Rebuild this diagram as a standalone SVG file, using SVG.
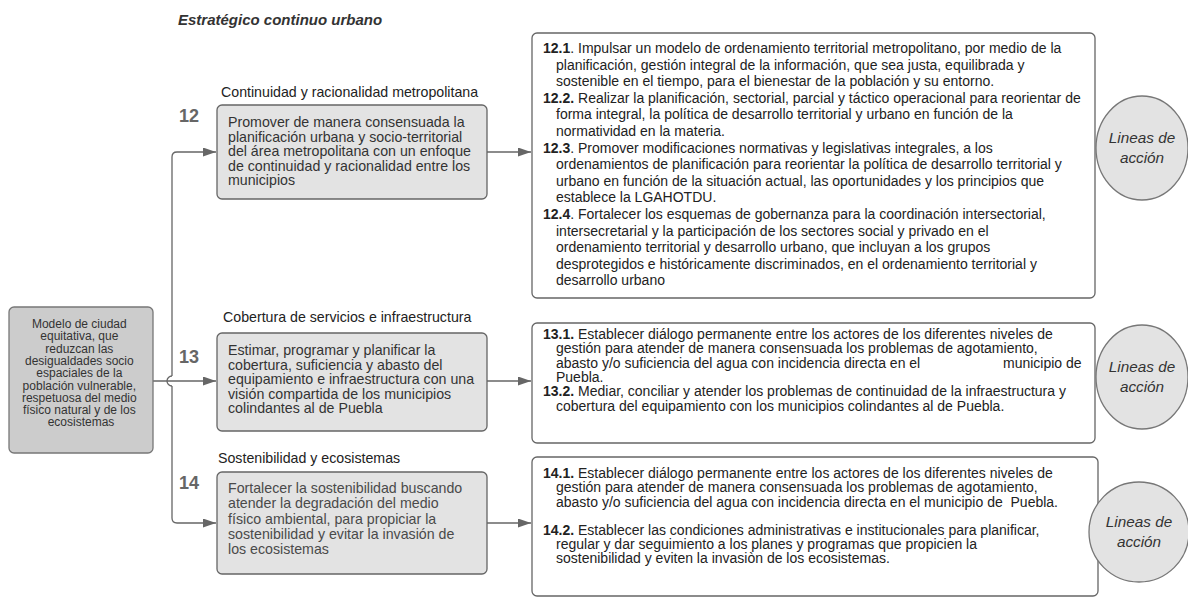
<svg xmlns="http://www.w3.org/2000/svg" width="1188" height="599" viewBox="0 0 1188 599">
<defs>
<style>
text{font-family:"Liberation Sans",Arial,sans-serif;fill:#333}
.title{font-size:15px;font-weight:bold;font-style:italic;fill:#333}
.lbl{font-size:14.2px;fill:#222}
.num{font-size:18px;font-weight:bold;fill:#666}
.obj{fill:#e3e3e3;stroke:#666;stroke-width:1.3}
.root{fill:#cccccc;stroke:#777;stroke-width:1.3}
.bt{font-size:14.2px;fill:#333}
.lt{font-size:12px;fill:#333}
.ra{fill:#fff;stroke:#666;stroke-width:1.3}
.rx{font-size:14px;fill:#222}
.b{font-weight:bold}
.circ{fill:#e3e3e3;stroke:#777;stroke-width:1.3}
.ct{font-size:15.3px;font-style:italic;fill:#333}
.con{fill:none;stroke:#666;stroke-width:1.3}
</style>
<marker id="arr" viewBox="0 0 13 9" refX="13" refY="4.5" markerWidth="13" markerHeight="9" markerUnits="userSpaceOnUse" orient="auto">
<path d="M0,0 L13,4.5 L0,9 z" fill="#666"/>
</marker>
</defs>

<text class="title" x="178" y="25">Estratégico continuo urbano</text>

<g id="connectors">
<path class="con" d="M172,376 V157 Q172,152 177,152 H216" marker-end="url(#arr)"/>
<path class="con" d="M172,386 V518 Q172,523 177,523 H216" marker-end="url(#arr)"/>
<path class="con" d="M172,376 A5,5 0 0 0 172,386"/>
<path class="con" d="M153,381 H216" marker-end="url(#arr)"/>
<path class="con" d="M487,152 H531" marker-end="url(#arr)"/>
<path class="con" d="M487,381 H531" marker-end="url(#arr)"/>
<path class="con" d="M487,523 H531" marker-end="url(#arr)"/>
</g>

<g id="root">
<rect class="root" x="9" y="307" width="144" height="146" rx="5"/>
<text class="lt" text-anchor="middle">
<tspan x="81" y="328">Modelo de ciudad</tspan>
<tspan x="81" y="340.3">equitativa, que</tspan>
<tspan x="81" y="352.6">reduzcan las</tspan>
<tspan x="81" y="364.9">desigualdades socio</tspan>
<tspan x="81" y="377.2">espaciales de la</tspan>
<tspan x="81" y="389.5">población vulnerable,</tspan>
<tspan x="81" y="401.8">respetuosa del medio</tspan>
<tspan x="81" y="414.1">físico natural y de los</tspan>
<tspan x="81" y="426.4">ecosistemas</tspan>
</text>
</g>

<g id="obj12">
<text class="lbl" x="221" y="97">Continuidad y racionalidad metropolitana</text>
<text class="num" x="179" y="122">12</text>
<rect class="obj" x="217" y="105" width="270" height="94" rx="5"/>
<text class="bt">
<tspan x="228" y="127">Promover de manera consensuada la</tspan>
<tspan x="228" y="141.5">planificación urbana y socio-territorial</tspan>
<tspan x="228" y="156">del área metropolitana con un enfoque</tspan>
<tspan x="228" y="170.5">de continuidad y racionalidad entre los</tspan>
<tspan x="228" y="185">municipios</tspan>
</text>
</g>

<g id="obj13">
<text class="lbl" x="223" y="322">Cobertura de servicios e infraestructura</text>
<text class="num" x="179" y="363">13</text>
<rect class="obj" x="217" y="333" width="270" height="98" rx="5"/>
<text class="bt">
<tspan x="228" y="355">Estimar, programar y planificar la</tspan>
<tspan x="228" y="369.5">cobertura, suficiencia y abasto del</tspan>
<tspan x="228" y="384">equipamiento e infraestructura con una</tspan>
<tspan x="228" y="398.5">visión compartida de los municipios</tspan>
<tspan x="228" y="413">colindantes al de Puebla</tspan>
</text>
</g>

<g id="obj14">
<text class="lbl" x="218" y="463">Sostenibilidad y ecosistemas</text>
<text class="num" x="179" y="489">14</text>
<rect class="obj" x="217" y="472" width="270" height="102" rx="5"/>
<text class="bt" style="fill:#4a4a4a">
<tspan x="228" y="493">Fortalecer la sostenibilidad buscando</tspan>
<tspan x="228" y="508.3">atender la degradación del medio</tspan>
<tspan x="228" y="523.6">físico ambiental, para propiciar la</tspan>
<tspan x="228" y="538.9">sostenibilidad y evitar la invasión de</tspan>
<tspan x="228" y="554.2">los ecosistemas</tspan>
</text>
</g>

<g id="acc12">
<rect class="ra" x="532" y="33" width="563" height="265" rx="5"/>
<text class="rx">
<tspan x="543" y="53"><tspan class="b">12.1</tspan>. Impulsar un modelo de ordenamiento territorial metropolitano, por medio de la</tspan>
<tspan x="556" y="69.6">planificación, gestión integral de la información, que sea justa, equilibrada y</tspan>
<tspan x="556" y="86.2">sostenible en el tiempo, para el bienestar de la población y su entorno.</tspan>
<tspan x="543" y="102.8"><tspan class="b">12.2.</tspan>  Realizar la planificación, sectorial, parcial y táctico operacional para reorientar de</tspan>
<tspan x="556" y="119.4">forma integral, la política de desarrollo territorial y urbano en función de la</tspan>
<tspan x="556" y="136">normatividad en la materia.</tspan>
<tspan x="543" y="152.6"><tspan class="b">12.3</tspan>. Promover modificaciones normativas y legislativas integrales, a los</tspan>
<tspan x="556" y="169.2">ordenamientos de planificación para reorientar la política de desarrollo territorial y</tspan>
<tspan x="556" y="185.8">urbano en función de la situación actual, las oportunidades y los principios que</tspan>
<tspan x="556" y="202.4">establece la LGAHOTDU.</tspan>
<tspan x="543" y="219"><tspan class="b">12.4</tspan>. Fortalecer los esquemas de gobernanza para la coordinación intersectorial,</tspan>
<tspan x="556" y="235.6">intersecretarial y la participación de los sectores social y privado en el</tspan>
<tspan x="556" y="252.2">ordenamiento territorial y desarrollo urbano, que incluyan a los grupos</tspan>
<tspan x="556" y="268.8">desprotegidos e históricamente discriminados, en el ordenamiento territorial y</tspan>
<tspan x="556" y="285.4">desarrollo urbano</tspan>
</text>
</g>

<g id="acc13">
<rect class="ra" x="532" y="323" width="563" height="120" rx="5"/>
<text class="rx">
<tspan x="543" y="339"><tspan class="b">13.1.</tspan> Establecer diálogo permanente entre los actores de los diferentes niveles de</tspan>
<tspan x="556" y="353.3">gestión para atender de manera consensuada los problemas de agotamiento,</tspan>
<tspan x="556" y="367.6">abasto y/o suficiencia del agua con incidencia directa en el</tspan>
<tspan x="1003" y="367.6">municipio de</tspan>
<tspan x="556" y="381.9">Puebla.</tspan>
<tspan x="543" y="396.2"><tspan class="b">13.2.</tspan> Mediar, conciliar y atender los problemas de continuidad de la infraestructura y</tspan>
<tspan x="556" y="410.5">cobertura del equipamiento con los municipios colindantes al de Puebla.</tspan>
</text>
</g>

<g id="acc14">
<rect class="ra" x="532" y="457" width="566" height="139" rx="5"/>
<text class="rx">
<tspan x="543" y="478"><tspan class="b">14.1.</tspan> Establecer diálogo permanente entre los actores de los diferentes niveles de</tspan>
<tspan x="556" y="492.3">gestión para atender de manera consensuada los problemas de agotamiento,</tspan>
<tspan x="556" y="506.6">abasto y/o suficiencia del agua con incidencia directa en el municipio de &#160;Puebla.</tspan>
<tspan x="543" y="534.5"><tspan class="b">14.2.</tspan> Establecer las condiciones administrativas e institucionales para planificar,</tspan>
<tspan x="556" y="548.8">regular y dar seguimiento a los planes y programas que propicien la</tspan>
<tspan x="556" y="563.1">sostenibilidad y eviten la invasiòn de los ecosistemas.</tspan>
</text>
</g>

<g id="lineas12">
<ellipse class="circ" cx="1142" cy="148" rx="46" ry="52"/>
<text class="ct" text-anchor="middle"><tspan x="1142" y="143">Lineas de</tspan><tspan x="1142" y="163">acción</tspan></text>
</g>
<g id="lineas13">
<ellipse class="circ" cx="1142" cy="377" rx="46" ry="52"/>
<text class="ct" text-anchor="middle"><tspan x="1142" y="372">Lineas de</tspan><tspan x="1142" y="392">acción</tspan></text>
</g>
<g id="lineas14">
<ellipse class="circ" cx="1139" cy="532" rx="50" ry="50"/>
<text class="ct" text-anchor="middle"><tspan x="1139" y="527">Lineas de</tspan><tspan x="1139" y="547">acción</tspan></text>
</g>
</svg>
